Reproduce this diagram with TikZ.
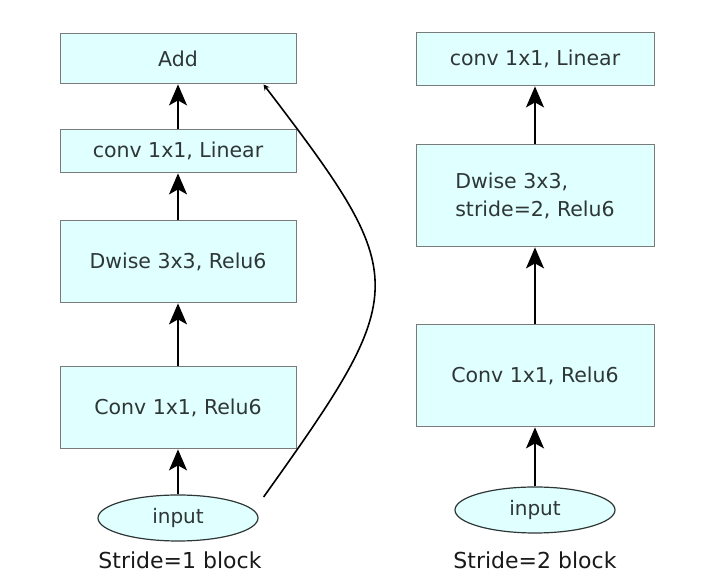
\documentclass[tikz,border=0pt]{standalone}
\usepackage{fontspec}
\setmainfont{DejaVu Sans}
\usetikzlibrary{positioning,arrows.meta,shapes.geometric}

\definecolor{boxfill}{HTML}{E0FFFF}
\definecolor{boxline}{HTML}{7A7A7A}
\definecolor{boxtext}{HTML}{2E3636}

\tikzset{
  layer/.style={shape=rectangle, draw=boxline, line width=1pt, fill=boxfill,
    text=boxtext, font=\fontsize{20.5}{28}\selectfont, inner sep=0pt},
  inputnode/.style={shape=ellipse, draw=boxtext, line width=1.2pt, fill=boxfill,
    text=boxtext, font=\fontsize{20}{24}\selectfont, inner sep=0pt,
    minimum width=160pt, minimum height=46pt},
  caption/.style={font=\fontsize{22}{26}\selectfont, text=black!90},
  flow/.style={-{Stealth[length=21pt,width=18pt,inset=5pt]}, line width=1.8pt}
}

\begin{document}
\begin{tikzpicture}[x=1pt, y=1pt]
\useasboundingbox (0,0) rectangle (705,575);

% stride = 1
\node [inputnode] (In1) at (178,57) {input};
\node [layer, minimum width=236pt, minimum height=82pt, above=45pt of In1] (C1) {Conv 1x1, Relu6};
\node [layer, minimum width=236pt, minimum height=82pt, above=63pt of C1] (D1) {Dwise 3x3, Relu6};
\node [layer, minimum width=236pt, minimum height=43pt, above=47pt of D1] (L1) {conv 1x1, Linear};
\node [layer, minimum width=236pt, minimum height=50pt, above=45pt of L1] (Add) {Add};
\node [caption] (Cap1) at (180,15) {Stride=1 block};

\draw [flow] (In1) -- (C1);
\draw [flow] (C1) -- (D1);
\draw [flow] (D1) -- (L1);
\draw [flow] (L1) -- (Add);

\coordinate (S1) at ([shift={(5pt,21pt)}]In1.east);
\coordinate (S2) at ([xshift=-33pt]Add.south east);
\draw [-{Stealth[length=6pt,width=6pt]}, line width=1.6pt] (S1) .. controls (412,286) and (412,296) .. (S2);

% stride = 2
\node [inputnode] (In2) at (535,65) {input};
\node [layer, minimum width=238pt, minimum height=102pt, above=59pt of In2] (C2) {Conv 1x1, Relu6};
\node [layer, minimum width=238pt, minimum height=102pt, above=77pt of C2, align=left] (D2) {Dwise 3x3,\\stride=2, Relu6};
\node [layer, minimum width=238pt, minimum height=53pt, above=58pt of D2] (L2) {conv 1x1, Linear};
\node [caption] (Cap2) at (535,15) {Stride=2 block};

\draw [flow] (In2) -- (C2);
\draw [flow] (C2) -- (D2);
\draw [flow] (D2) -- (L2);
\end{tikzpicture}
\end{document}
